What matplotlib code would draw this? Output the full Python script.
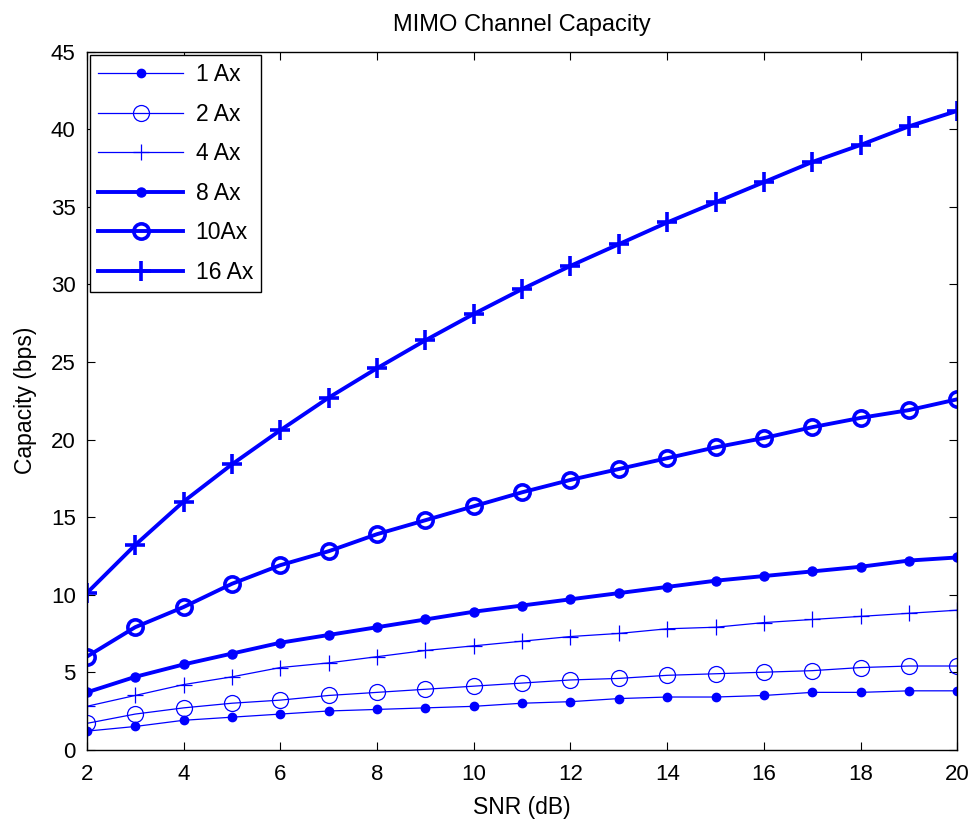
import matplotlib
matplotlib.use("Agg")
import matplotlib.pyplot as plt

snr = [2, 3, 4, 5, 6, 7, 8, 9, 10, 11, 12, 13, 14, 15, 16, 17, 18, 19, 20]

cap_1 = [1.2, 1.5, 1.9, 2.1, 2.3, 2.5, 2.6, 2.7, 2.8, 3.0, 3.1, 3.3, 3.4, 3.4, 3.5, 3.7, 3.7, 3.8, 3.8]
cap_2 = [1.7, 2.3, 2.7, 3.0, 3.2, 3.5, 3.7, 3.9, 4.1, 4.3, 4.5, 4.6, 4.8, 4.9, 5.0, 5.1, 5.3, 5.4, 5.4]
cap_4 = [2.8, 3.5, 4.2, 4.7, 5.3, 5.6, 6.0, 6.4, 6.7, 7.0, 7.3, 7.5, 7.8, 7.9, 8.2, 8.4, 8.6, 8.8, 9.0]
cap_8 = [3.7, 4.7, 5.5, 6.2, 6.9, 7.4, 7.9, 8.4, 8.9, 9.3, 9.7, 10.1, 10.5, 10.9, 11.2, 11.5, 11.8, 12.2, 12.4]
cap_10 = [6.0, 7.9, 9.2, 10.7, 11.9, 12.8, 13.9, 14.8, 15.7, 16.6, 17.4, 18.1, 18.8, 19.5, 20.1, 20.8, 21.4, 21.9, 22.6]
cap_16 = [10.1, 13.2, 16.0, 18.4, 20.6, 22.7, 24.6, 26.4, 28.1, 29.7, 31.2, 32.6, 34.0, 35.3, 36.6, 37.9, 39.0, 40.2, 41.2]

labels = ["1 Ax", "2 Ax", "4 Ax", "8 Ax", "10Ax", "16 Ax"]
xticks = [2, 4, 6, 8, 10, 12, 14, 16, 18, 20]
yticks = [0, 5, 10, 15, 20, 25, 30, 35, 40, 45]

plt.rcParams['font.family'] = ['Liberation Sans', 'DejaVu Sans']

fig = plt.figure(figsize=(9.75, 8.23), dpi=100)
ax = fig.add_axes([0.089, 0.089, 0.893, 0.848])

blue = (0, 0, 1)
ax.plot(snr, cap_1, color=blue, lw=0.9, marker='o', ms=6, mfc=blue, mec=blue, label=labels[0])
ax.plot(snr, cap_2, color=blue, lw=0.9, marker='o', ms=11.5, mfc='none', mec=blue, mew=0.9, label=labels[1])
ax.plot(snr, cap_4, color=blue, lw=0.9, marker='+', ms=11, mec=blue, mew=0.9, label=labels[2])
ax.plot(snr, cap_8, color=blue, lw=2.8, marker='o', ms=6.5, mfc=blue, mec=blue, label=labels[3])
ax.plot(snr, cap_10, color=blue, lw=2.8, marker='o', ms=11, mfc='none', mec=blue, mew=2.6, label=labels[4])
ax.plot(snr, cap_16, color=blue, lw=2.8, marker='+', ms=14, mec=blue, mew=2.6, label=labels[5])

ax.set_xlim(2, 20)
ax.set_ylim(0, 45)
ax.set_xticks(xticks)
ax.set_yticks(yticks)
ax.tick_params(direction='in', top=True, right=True, labelsize=16, length=6, width=0.8)
ax.tick_params(axis='x', pad=10)
ax.tick_params(axis='y', pad=8)
for s in ax.spines.values():
    s.set_linewidth(1.0)

ax.set_title("MIMO Channel Capacity", fontsize=17, pad=15)
ax.set_xlabel("SNR (dB)", fontsize=16.5, labelpad=8)
ax.set_ylabel("Capacity (bps)", fontsize=16.5, labelpad=10)

leg = ax.legend(loc='upper left', fontsize=16.5, frameon=True, fancybox=False,
                edgecolor='black', framealpha=1, borderaxespad=0.15,
                handlelength=3.7, labelspacing=0.72, borderpad=0.35, handletextpad=0.55)
leg.get_frame().set_linewidth(1.0)

fig.savefig("out.png", dpi=100)
